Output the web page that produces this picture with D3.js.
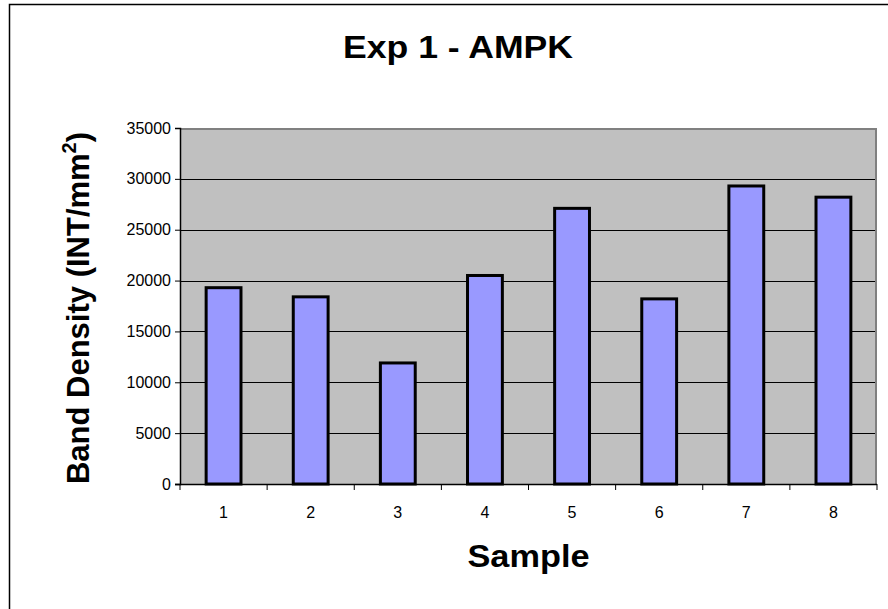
<!DOCTYPE html>
<html>
<head>
<meta charset="utf-8">
<script src="https://cdn.jsdelivr.net/npm/d3@7"></script>
<style>
  html, body { margin: 0; padding: 0; background: #fff; }
  svg { display: block; font-family: "Liberation Sans", Arial, sans-serif; }
</style>
</head>
<body>
<svg id="chart" width="888" height="609"></svg>
<script>
// Band density per sample
const samples = ["1", "2", "3", "4", "5", "6", "7", "8"];
const bandDensity = [19300, 18400, 11900, 20500, 27100, 18200, 29300, 28200];
const yTicks = [0, 5000, 10000, 15000, 20000, 25000, 30000, 35000];

const svg = d3.select("#chart");
const plot = { left: 180, top: 128, right: 877, bottom: 484 };

// outer chart frame
svg.append("rect")
  .attr("x", 9.5).attr("y", 4.5)
  .attr("width", 900).attr("height", 700)
  .attr("fill", "#fff").attr("stroke", "#000").attr("stroke-width", 1.5);

const x = d3.scaleBand().domain(samples).range([plot.left, plot.right]).paddingInner(0.6).paddingOuter(0.3);
const xBand = d3.scaleBand().domain(samples).range([plot.left, plot.right]);
const y = d3.scaleLinear().domain([0, 35000]).range([plot.bottom, plot.top]);

// plot background
svg.append("rect")
  .attr("x", plot.left).attr("y", plot.top)
  .attr("width", plot.right - plot.left).attr("height", plot.bottom - plot.top)
  .attr("fill", "#c0c0c0");

// gridlines
svg.append("g")
  .selectAll("line")
  .data(yTicks.filter(d => d > 0 && d < 35000))
  .join("line")
  .attr("x1", plot.left).attr("x2", plot.right)
  .attr("y1", d => Math.round(y(d)) + 0.5).attr("y2", d => Math.round(y(d)) + 0.5)
  .attr("stroke", "#000").attr("stroke-width", 1);

// plot border (top and right)
svg.append("path")
  .attr("d", `M${plot.left},${plot.top + 1}H${plot.right - 1}V${plot.bottom}`)
  .attr("fill", "none").attr("stroke", "#808080").attr("stroke-width", 2);

// bars
svg.append("g")
  .selectAll("rect")
  .data(bandDensity)
  .join("rect")
  .attr("x", (d, i) => x(samples[i]))
  .attr("y", d => y(d))
  .attr("width", x.bandwidth())
  .attr("height", d => y(0) - y(d))
  .attr("fill", "#9999ff")
  .attr("stroke", "#000")
  .attr("stroke-width", 3);

// y axis
const yAxis = d3.axisLeft(y).tickValues(yTicks).tickSize(5).tickPadding(4).tickFormat(d3.format("d"));
const gy = svg.append("g").attr("transform", `translate(${plot.left},0)`).call(yAxis);
gy.select(".domain").attr("stroke", "#000").attr("stroke-width", 1.5);
gy.selectAll(".tick line").attr("stroke", "#000");
gy.selectAll(".tick text").attr("font-size", 16).attr("fill", "#000")
  .attr("font-family", "Liberation Sans, Arial, sans-serif");

// x axis: ticks at category boundaries
const gx = svg.append("g").attr("transform", `translate(0,${plot.bottom})`);
gx.append("line").attr("x1", plot.left - 5).attr("x2", plot.right)
  .attr("y1", 0.5).attr("y2", 0.5).attr("stroke", "#000").attr("stroke-width", 1.5);
gx.selectAll("line.tk")
  .data(samples.concat(["end"]))
  .join("line").attr("class", "tk")
  .attr("x1", (d, i) => i < samples.length ? xBand(d) : plot.right)
  .attr("x2", (d, i) => i < samples.length ? xBand(d) : plot.right)
  .attr("y1", 0).attr("y2", 6).attr("stroke", "#000");
gx.selectAll("text")
  .data(samples)
  .join("text")
  .attr("x", d => xBand(d) + xBand.bandwidth() / 2)
  .attr("y", 34)
  .attr("text-anchor", "middle")
  .attr("font-size", 16)
  .text(d => d);

// title
svg.append("text")
  .attr("x", 458).attr("y", 58)
  .attr("text-anchor", "middle")
  .attr("font-size", 32).attr("font-weight", "bold")
  .attr("textLength", 230).attr("lengthAdjust", "spacingAndGlyphs")
  .text("Exp 1 - AMPK");

// x axis title
svg.append("text")
  .attr("x", (plot.left + plot.right) / 2).attr("y", 567)
  .attr("text-anchor", "middle")
  .attr("font-size", 31).attr("font-weight", "bold")
  .attr("textLength", 122).attr("lengthAdjust", "spacingAndGlyphs")
  .text("Sample");

// y axis title
const yt = svg.append("text")
  .attr("transform", `translate(89,${(plot.top + plot.bottom) / 2 + 2}) rotate(-90)`)
  .attr("text-anchor", "middle")
  .attr("font-size", 31).attr("font-weight", "bold");
yt.append("tspan").text("Band Density (INT/mm");
yt.append("tspan").attr("font-size", 20).attr("dy", -13).text("2");
yt.append("tspan").attr("dy", 13).text(")");
</script>
</body>
</html>
